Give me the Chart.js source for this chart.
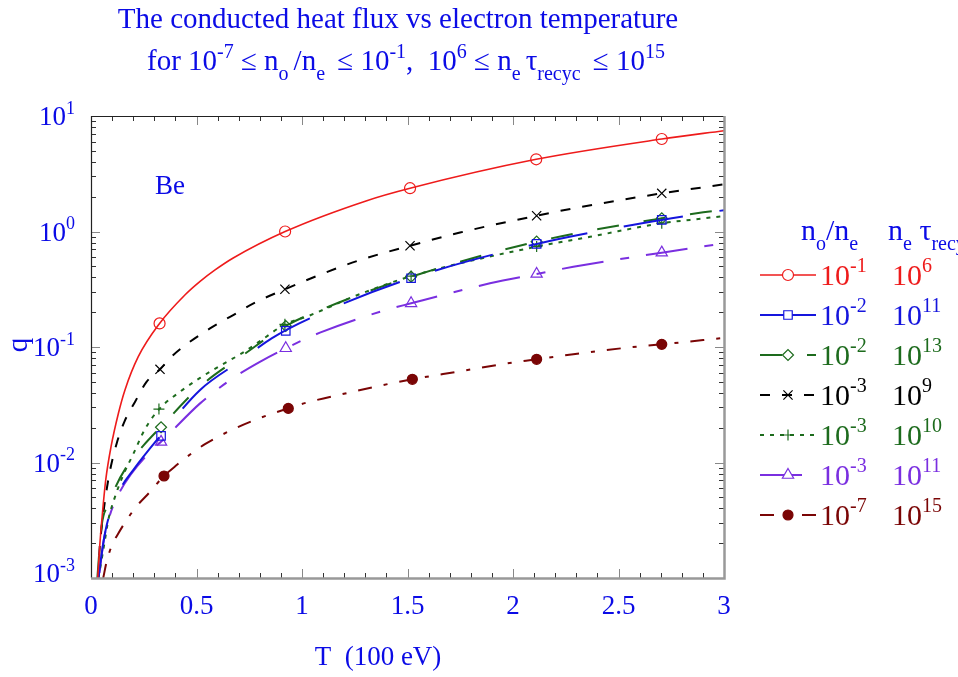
<!DOCTYPE html>
<html><head><meta charset="utf-8">
<script src="https://cdn.jsdelivr.net/npm/chart.js@4/dist/chart.umd.min.js"></script>
<style>html,body{margin:0;padding:0;background:#fff;}#wrap{width:958px;height:677px;position:relative;}</style>
</head><body><div id="wrap"><canvas id="c" width="958" height="677"></canvas></div>
<script>
// ---- data (T in 100 eV, q) ----
const redT = [0.032,0.041,0.054,0.07,0.095,0.13,0.161,0.224,0.325,0.445,0.517,0.588,0.674,0.92,1.307,1.512,2.11,2.705,3.0];
const redQ = [0.001,0.00186,0.0036,0.0071,0.0137,0.0267,0.0425,0.0824,0.160,0.282,0.370,0.465,0.59,1.0,1.85,2.37,4.22,6.32,7.46];
const redMarkT = [0.325,0.92,1.512,2.11,2.705];
const redMarkQ = [0.160,1.0,2.37,4.22,6.32];

const blueT = [0.035,0.06,0.079,0.137,0.2,0.319,0.517,0.714,0.856,1.117,1.517,2.112,2.705,3.0];
const blueQ = [0.001,0.0021,0.0031,0.0058,0.0086,0.0162,0.0425,0.0771,0.119,0.206,0.394,0.78,1.26,1.53];
const blueMarkT = [0.332,0.923,1.517,2.112,2.705];
const blueMarkQ = [0.017,0.138,0.394,0.78,1.26];

const greenT = [0.03,0.05,0.09,0.114,0.169,0.248,0.33,0.52,0.72,0.923,1.117,1.517,2.112,2.705,3.0];
const greenQ = [0.001,0.0028,0.0045,0.006,0.0092,0.014,0.0202,0.046,0.085,0.152,0.22,0.406,0.817,1.30,1.55];
const greenMarkT = [0.332,0.923,1.517,2.112,2.705];
const greenMarkQ = [0.0202,0.152,0.406,0.817,1.30];

const blackT = [0.034,0.04,0.054,0.07,0.09,0.122,0.158,0.209,0.264,0.327,0.39,0.564,0.674,0.777,0.919,1.07,1.275,1.512,1.749,2.112,2.286,2.705,3.0];
const blackQ = [0.001,0.0017,0.0031,0.0052,0.0085,0.0147,0.0225,0.0336,0.0501,0.0641,0.0853,0.145,0.189,0.242,0.316,0.412,0.566,0.753,0.98,1.37,1.585,2.14,2.56];
const blackMarkT = [0.327,0.919,1.512,2.112,2.705];
const blackMarkQ = [0.0641,0.316,0.753,1.37,2.14];

const dotT = [0.035,0.05,0.066,0.082,0.114,0.153,0.2,0.256,0.327,0.422,0.517,0.619,0.714,0.809,0.919,1.022,1.133,1.244,1.517,2.112,2.365,2.705,2.839,3.0];
const dotQ = [0.001,0.00143,0.00213,0.00318,0.00506,0.0078,0.0118,0.0195,0.0295,0.041,0.054,0.070,0.088,0.115,0.157,0.183,0.223,0.273,0.41,0.74,0.90,1.18,1.26,1.36];
const dotMarkT = [0.322,0.919,1.517,2.112,2.705];
const dotMarkQ = [0.029,0.157,0.41,0.74,1.18];

const purpleT = [0.04,0.06,0.085,0.137,0.287,0.332,0.517,0.683,0.809,0.923,1.085,1.37,1.517,1.891,2.112,2.286,2.705,3.0];
const purpleQ = [0.0011,0.0021,0.0033,0.0056,0.0128,0.0151,0.0325,0.0553,0.076,0.0975,0.133,0.202,0.239,0.356,0.429,0.495,0.656,0.79];
const purpleMarkT = [0.332,0.923,1.517,2.112,2.705];
const purpleMarkQ = [0.0151,0.0975,0.239,0.429,0.656];

const brownT = [0.058,0.074,0.098,0.13,0.169,0.221,0.28,0.335,0.406,0.477,0.54,0.674,0.809,0.935,1.022,1.22,1.346,1.523,1.733,1.954,2.112,2.286,2.554,2.705,3.0];
const brownQ = [0.001,0.00138,0.0019,0.00244,0.00318,0.00428,0.00558,0.0073,0.0095,0.012,0.0144,0.0194,0.0246,0.0294,0.033,0.0402,0.0453,0.0525,0.061,0.0713,0.0782,0.0865,0.0993,0.1054,0.12];
const brownMarkT = [0.346,0.935,1.523,2.112,2.705];
const brownMarkQ = [0.00764,0.0294,0.0525,0.0782,0.1054];

// legend labels (exponents): n_o/n_e and n_e*tau_recyc
const ratioExp = ['-1','-2','-2','-3','-3','-3','-7'];
const tauExp   = ['6','11','13','9','10','11','15'];
// tick labels
const xTickVals = [0,0.5,1,1.5,2,2.5,3];
const yTickExps = [-3,-2,-1,0,1];

// ---- styles ----
const TXT = '#0b0be6';
const FONT = '"Liberation Serif","Times New Roman",serif';
const series = [
  {T:redT,Q:redQ,mT:redMarkT,mQ:redMarkQ,color:'#ee1b1b',dash:[],w:1.6,style:'circle',r:5.5,fill:false},
  {T:blueT,Q:blueQ,mT:blueMarkT,mQ:blueMarkQ,color:'#1515dd',dash:[60,37],w:2,style:'rect',r:6,fill:false},
  {T:greenT,Q:greenQ,mT:greenMarkT,mQ:greenMarkQ,color:'#1d6b1d',dash:[22,25],w:2,style:'rectRot',r:5.5,fill:false},
  {T:blackT,Q:blackQ,mT:blackMarkT,mQ:blackMarkQ,color:'#000000',dash:[10,12],w:2,style:'crossRot',r:6.5,fill:false},
  {T:dotT,Q:dotQ,mT:dotMarkT,mQ:dotMarkQ,color:'#1d6b1d',dash:[4,6],w:2,style:'cross',r:5.5,fill:false},
  {T:purpleT,Q:purpleQ,mT:purpleMarkT,mQ:purpleMarkQ,color:'#7a2fe0',dash:[42,17,9,17],w:2,style:'triangle',r:6.5,fill:false},
  {T:brownT,Q:brownQ,mT:brownMarkT,mQ:brownMarkQ,color:'#7a0505',dash:[14,12,4,12],w:2,style:'circle',r:5,fill:true}
];
const toXY = (T,Q) => T.map((t,i)=>({x:t,y:Q[i]}));
const datasets = [];
series.forEach(s=>{
  datasets.push({data:toXY(s.T,s.Q),borderColor:s.color,borderWidth:s.w,borderDash:s.dash,pointRadius:0,
    cubicInterpolationMode:'monotone',fill:false});
  datasets.push({data:toXY(s.mT,s.mQ),showLine:false,pointStyle:s.style,pointRadius:s.r,
    pointBorderColor:s.color,pointBackgroundColor:s.fill?s.color:'rgba(0,0,0,0)',pointBorderWidth:1.2});
});

// rich text: parts [text, mode] mode 0 normal, 1 sup, -1 sub
function richWidth(ctx, parts, size){
  let w=0; parts.forEach(p=>{ctx.font=(p[1]?Math.round(size*0.68):size)+'px '+FONT; w+=ctx.measureText(p[0]).width;}); return w;
}
function drawRich(ctx, parts, x, y, size, color, align){
  const w = richWidth(ctx, parts, size);
  let cx = align==='center'? x-w/2 : align==='right'? x-w : x;
  ctx.fillStyle=color; ctx.textBaseline='alphabetic'; ctx.textAlign='left';
  parts.forEach(p=>{
    const s = p[1]?Math.round(size*0.68):size;
    ctx.font = s+'px '+FONT;
    const dy = p[1]===1 ? -size*0.42 : p[1]===-1 ? size*0.33 : 0;
    ctx.fillText(p[0], cx, y+dy);
    cx += ctx.measureText(p[0]).width;
  });
}

const decor = {
  id:'decor',
  afterDraw(chart){
    const ctx=chart.ctx, ca=chart.chartArea, xs=chart.scales.x, ys=chart.scales.y;
    ctx.save();
    // ticks
    ctx.lineWidth=1;
    for(let i=0;i<=30;i++){
      const v=i/10, px=Math.round(xs.getPixelForValue(v))+0.5, major=(i%5===0);
      const L = major?9:5; ctx.strokeStyle = major?'#888':'#333';
      ctx.beginPath(); ctx.moveTo(px,ca.bottom); ctx.lineTo(px,ca.bottom-L);
      ctx.moveTo(px,ca.top); ctx.lineTo(px,ca.top+L); ctx.stroke();
    }
    for(let k=-3;k<=1;k++){
      for(let m=1;m<=9;m++){
        const v=m*Math.pow(10,k); if(v>10.0001) break;
        const py=Math.round(ys.getPixelForValue(v))+0.5, major=(m===1);
        const L=major?9:5; ctx.strokeStyle = major?'#888':'#333';
        ctx.beginPath(); ctx.moveTo(ca.left,py); ctx.lineTo(ca.left+L,py);
        ctx.moveTo(ca.right,py); ctx.lineTo(ca.right-L,py); ctx.stroke();
      }
    }
    // frame
    ctx.strokeStyle='#222'; ctx.lineWidth=1.2;
    ctx.beginPath(); ctx.moveTo(ca.left+0.5,ca.bottom); ctx.lineTo(ca.left+0.5,ca.top+0.5); ctx.lineTo(ca.right,ca.top+0.5); ctx.stroke();
    ctx.strokeStyle='#999'; ctx.lineWidth=2.5;
    ctx.beginPath(); ctx.moveTo(ca.left,ca.bottom+0.5); ctx.lineTo(ca.right+0.5,ca.bottom+0.5); ctx.lineTo(ca.right+0.5,ca.top); ctx.stroke();
    // x tick labels
    ctx.fillStyle=TXT; ctx.font='27px '+FONT; ctx.textAlign='center'; ctx.textBaseline='alphabetic';
    xTickVals.forEach(v=>{ ctx.fillText(String(v), xs.getPixelForValue(v), 614); });
    // y tick labels
    yTickExps.forEach(k=>{
      let py = ys.getPixelForValue(Math.pow(10,k)) + 9;
      if(k===-3) py -= 5;
      drawRich(ctx, [['10',0],[String(k),1]], 75, py, 27, TXT, 'right');
    });
    // axis titles
    ctx.fillStyle=TXT; ctx.font='27px '+FONT; ctx.textAlign='center';
    ctx.fillText('T  (100 eV)', 378, 665);
    ctx.save(); ctx.translate(27,345); ctx.rotate(-Math.PI/2); ctx.font='29px '+FONT; ctx.fillText('q',0,0); ctx.restore();
    // Be
    ctx.textAlign='left'; ctx.font='27px '+FONT; ctx.fillText('Be', 155, 194);
    // title
    ctx.textAlign='center'; ctx.font='29px '+FONT; ctx.fillText('The conducted heat flux vs electron temperature', 398, 28);
    drawRich(ctx, [['for 10',0],['-7',1],[' \u2264 n',0],['o ',-1],['/n',0],['e ',-1],[' \u2264 10',0],['-1',1],[',  10',0],['6',1],[' \u2264 n',0],['e ',-1],['\u03c4',0],['recyc ',-1],[' \u2264 10',0],['15',1]], 406, 70, 29, TXT, 'center');
    // legend header
    drawRich(ctx, [['n',0],['o',-1],['/n',0],['e',-1]], 801, 240, 30, TXT, 'left');
    drawRich(ctx, [['n',0],['e',-1],[' \u03c4',0],['recyc',-1]], 888, 240, 30, TXT, 'left');
    // legend rows
    series.forEach((s,i)=>{
      const y = 275 + 40*i;
      ctx.save();
      ctx.strokeStyle=s.color; ctx.lineWidth=s.w; ctx.setLineDash(s.dash);
      ctx.beginPath(); ctx.moveTo(760,y); ctx.lineTo(816,y); ctx.stroke();
      ctx.setLineDash([]);
      ctx.fillStyle = s.fill? s.color : '#fff'; ctx.strokeStyle=s.color; ctx.lineWidth=1.2;
      Chart.helpers.drawPoint(ctx,{pointStyle:s.style,rotation:0,radius:s.r,borderWidth:1.2},788,y);
      ctx.restore();
      drawRich(ctx, [['10',0],[ratioExp[i],1]], 820, y+10, 30, s.color, 'left');
      drawRich(ctx, [['10',0],[tauExp[i],1]], 892, y+10, 30, s.color, 'left');
    });
    ctx.restore();
  }
};

new Chart(document.getElementById('c'), {
  type:'line',
  data:{datasets},
  options:{
    responsive:false, animation:false, events:[],
    layout:{padding:{left:91,top:116,right:234,bottom:99}},
    plugins:{legend:{display:false},title:{display:false},tooltip:{enabled:false}},
    scales:{
      x:{type:'linear',min:0,max:3,display:false},
      y:{type:'logarithmic',min:0.001,max:10,display:false}
    }
  },
  plugins:[decor]
});
</script></body></html>
